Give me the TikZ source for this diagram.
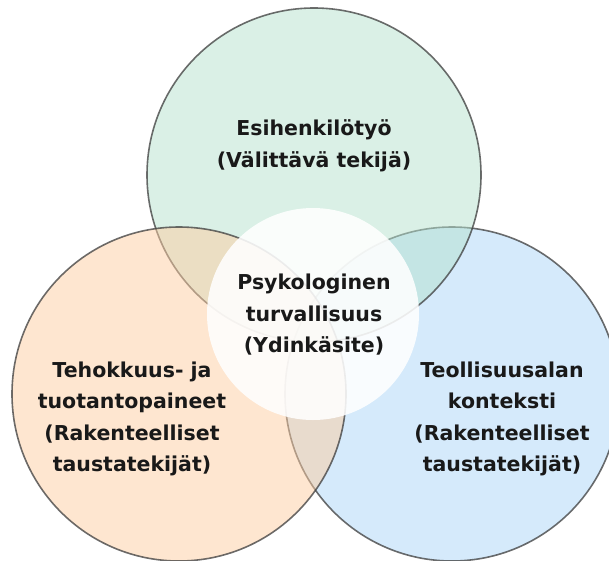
\documentclass[tikz,border=0pt]{standalone}
\usepackage{fontspec}
\setmainfont{DejaVu Sans}
\definecolor{greenfill}{RGB}{181,225,205}
\definecolor{orangefill}{RGB}{253,205,161}
\definecolor{bluefill}{RGB}{171,213,247}
\definecolor{edgegray}{RGB}{60,60,60}
\definecolor{textgray}{RGB}{25,25,25}
\begin{document}
\begin{tikzpicture}
  [x=1pt,y=-1pt,
   every node/.style={font=\bfseries\fontsize{20.5}{31.5}\selectfont,text=textgray,align=center},
   area/.style={circle,minimum size=334pt,inner sep=0pt,draw=edgegray,draw opacity=.75,line width=1.6pt,fill opacity=.5},
   core/.style={circle,minimum size=212pt,inner sep=0pt,fill=white,fill opacity=.88}]
  \useasboundingbox (0,0) rectangle (609,560);
  \node[area,fill=bluefill] (context) at (452,394) {};
  \node[area,fill=greenfill] (leader) at (314,175) {};
  \node[area,fill=orangefill] (pressure) at (179,394) {};
  \node[core] (safety) at (313,314) {};
  \node (leadertext) at (314,146) {Esihenkilötyö\\(Välittävä tekijä)};
  \node (safetytext) at (314,315) {Psykologinen\\turvallisuus\\(Ydinkäsite)};
  \node (pressuretext) at (132,419) {Tehokkuus- ja\\tuotantopaineet\\(Rakenteelliset\\taustatekijät)};
  \node (contexttext) at (502,419) {Teollisuusalan\\konteksti\\(Rakenteelliset\\taustatekijät)};
\end{tikzpicture}
\end{document}
